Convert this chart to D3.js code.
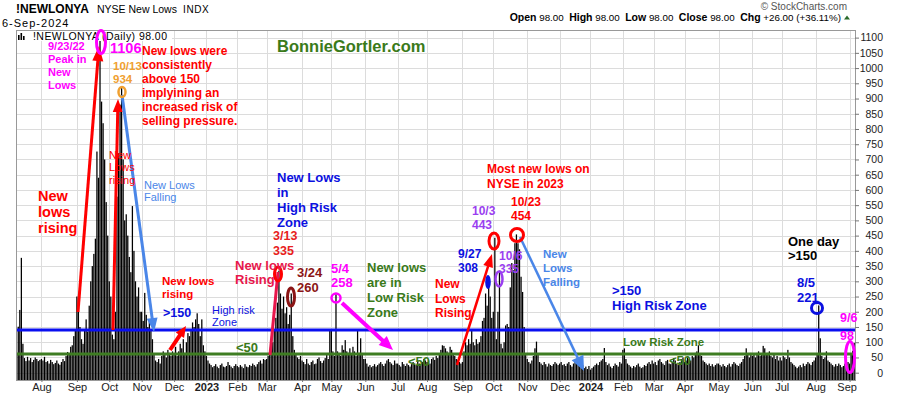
<!DOCTYPE html>
<html>
<head>
<meta charset="utf-8">
<script src="https://cdn.jsdelivr.net/npm/d3@7"></script>
<style>
  body { margin: 0; background: #fff; }
  svg { display: block; font-family: Arial, "Liberation Sans", sans-serif; }
</style>
</head>
<body>
<svg id="chart" width="900" height="396"></svg>
<script>
(function (d3) {
    'use strict';

    // Daily NYSE new lows, one array per month.
    var jul22 = [60, 151, 206, 377, 95, 48, 38, 52, 40, 48, 35, 42, 50, 45, 38, 42];
    var aug22 = [45, 40, 52, 35, 38, 30, 42, 35, 28, 32, 40, 30, 26, 35, 45, 38, 55, 68, 60, 85, 90, 120, 140];
    var sep22 = [250, 205, 150, 110, 95, 140, 175, 135, 220, 300, 350, 390, 440, 726, 640, 1106, 890, 819, 700, 560, 450];
    var oct22 = [300, 250, 125, 110, 200, 578, 720, 880, 934, 700, 500, 520, 450, 380, 330, 547, 400, 300, 250, 280, 200];
    var nov22 = [200, 170, 262, 190, 150, 170, 140, 110, 60, 40, 35, 45, 30, 55, 70, 60, 50, 75, 65, 55, 70];
    var dec22 = [60, 85, 55, 70, 95, 80, 110, 65, 100, 130, 120, 140, 165, 150, 175, 195, 160, 120, 175, 90, 70];
    var jan23 = [55, 40, 30, 25, 18, 22, 28, 20, 15, 25, 30, 20, 18, 22, 35, 25, 20, 15, 22, 28];
    var feb23 = [22, 18, 25, 20, 15, 28, 20, 18, 25, 22, 30, 25, 20, 28, 35, 40, 30, 45, 42];
    var mar23 = [45, 55, 60, 75, 100, 140, 180, 230, 335, 260, 210, 250, 195, 215, 160, 190, 260, 120, 75, 60, 50, 45, 55];
    var apr23 = [40, 35, 28, 45, 30, 25, 35, 40, 28, 30, 45, 50, 38, 32, 40, 48, 60, 45, 140];
    var may23 = [140, 70, 55, 258, 70, 60, 55, 90, 75, 107, 70, 65, 80, 60, 85, 70, 55, 140, 65, 113, 60, 45];
    var jun23 = [45, 30, 20, 25, 18, 22, 28, 20, 25, 30, 35, 28, 22, 30, 40, 45, 35, 30, 25, 40, 30];
    var jul23 = [30, 25, 20, 35, 28, 22, 30, 25, 20, 28, 35, 30, 25, 40, 30, 28, 35, 45, 40];
    var aug23 = [35, 40, 30, 45, 50, 42, 55, 48, 60, 75, 90, 88, 80, 70, 65, 85, 75, 60, 55, 45, 40, 35, 30];
    var sep23 = [35, 70, 100, 90, 110, 95, 140, 100, 90, 110, 95, 100, 120, 170, 180, 260, 220, 308, 250, 180];
    var oct23 = [200, 443, 110, 200, 335, 95, 80, 100, 155, 160, 150, 280, 360, 337, 425, 454, 425, 405, 315, 265, 150, 60];
    var nov23 = [45, 35, 30, 40, 55, 80, 102, 60, 35, 30, 25, 35, 28, 20, 30, 25, 22, 28, 35, 30, 25];
    var dec23 = [30, 35, 25, 28, 22, 30, 35, 25, 20, 30, 40, 35, 28, 22, 18, 25, 15, 20, 12, 22];
    var jan24 = [10, 15, 20, 25, 30, 25, 35, 40, 45, 81, 35, 25, 30, 20, 15, 22, 30, 25, 20, 35, 30];
    var feb24 = [75, 80, 45, 30, 25, 20, 15, 22, 18, 25, 30, 20, 15, 18, 25, 22, 30, 35, 28, 40];
    var mar24 = [30, 35, 25, 40, 45, 35, 30, 25, 38, 42, 30, 28, 35, 48, 40, 30, 25, 35, 45, 50];
    var apr24 = [35, 40, 50, 45, 40, 55, 50, 65, 70, 90, 60, 55, 40, 35, 30, 25, 30, 22, 28, 20, 25, 30];
    var may24 = [30, 25, 20, 28, 22, 18, 25, 30, 20, 28, 35, 30, 25, 22, 30, 35, 45, 55, 80, 60, 50, 65];
    var jun24 = [55, 60, 50, 65, 70, 55, 60, 88, 80, 60, 65, 70, 55, 50, 60, 45, 55, 40, 50];
    var jul24 = [40, 55, 50, 45, 75, 50, 35, 30, 25, 20, 15, 20, 25, 18, 30, 22, 28, 35, 30, 25, 35, 40];
    var aug24 = [50, 60, 221, 113, 55, 45, 50, 70, 40, 35, 30, 25, 20, 28, 22, 30, 25, 18, 22, 30, 28, 35];
    var sep24 = [30, 60, 72, 98];

    var months = [jul22, aug22, sep22, oct22, nov22, dec22, jan23, feb23, mar23, apr23, may23, jun23,
        jul23, aug23, sep23, oct23, nov23, dec23, jan24, feb24, mar24, apr24, may24, jun24, jul24, aug24, sep24];
    var monthLabels = ['', 'Aug', 'Sep', 'Oct', 'Nov', 'Dec', '2023', 'Feb', 'Mar', 'Apr', 'May', 'Jun',
        'Jul', 'Aug', 'Sep', 'Oct', 'Nov', 'Dec', '2024', 'Feb', 'Mar', 'Apr', 'May', 'Jun', 'Jul', 'Aug', 'Sep'];
    var yTicks = [0, 50, 100, 150, 200, 250, 300, 350, 400, 450, 500, 550,
        600, 650, 700, 750, 800, 850, 900, 950, 1000, 1050, 1100];
    var highRiskLevel = 140;
    var lowRiskLevel = 61;

    var MAG = '#ff00ff', ORANGE = '#f0a030', RED = '#ff0000', CRIMSON = '#e8174c',
        MAROON = '#8b1515', BLUE = '#0b10e0', CORN = '#4a86e8', GREEN = '#3a7a1a', PURPLE = '#9a3ef0';

    // Flatten the months into one run of trading days.
    var values = [];
    var monthStart = [];
    months.forEach(function (m) {
        monthStart.push(values.length);
        values = values.concat(m);
    });

    var plot = {left: 16, right: 855, top: 30, bottom: 380};
    var svg = d3.select('#chart');

    var x = d3.scaleLinear().domain([0, values.length]).range([plot.left, plot.right]);
    var y = d3.scaleLinear().domain([-24, 1125]).range([plot.bottom, plot.top]);
    var step = x(1) - x(0);
    var monthX = function (s) { return Math.round(x(s + 0.5)) + 0.5; };

    // Grid
    var grid = svg.append('g').attr('class', 'grid');
    grid.selectAll('.hg').data(yTicks).enter().append('line')
        .attr('x1', plot.left).attr('x2', plot.right)
        .attr('y1', function (d) { return Math.round(y(d)) + 0.5; })
        .attr('y2', function (d) { return Math.round(y(d)) + 0.5; })
        .attr('stroke', '#dcdcdc');
    grid.selectAll('.vg').data(monthStart.slice(1)).enter().append('line')
        .attr('x1', monthX).attr('x2', monthX)
        .attr('y1', plot.top).attr('y2', plot.bottom)
        .attr('stroke', '#dcdcdc');

    // Bars
    svg.append('g').selectAll('rect').data(values).enter().append('rect')
        .attr('x', function (d, i) { return x(i) + 0.1; })
        .attr('width', step * 0.82)
        .attr('y', function (d) { return y(d); })
        .attr('height', function (d) { return plot.bottom - y(d); })
        .attr('fill', '#000');

    // Zone lines
    svg.append('line').attr('x1', plot.left).attr('x2', plot.right)
        .attr('y1', y(highRiskLevel)).attr('y2', y(highRiskLevel))
        .attr('stroke', '#0a0ff0').attr('stroke-width', 3);
    svg.append('line').attr('x1', plot.left).attr('x2', plot.right)
        .attr('y1', y(lowRiskLevel)).attr('y2', y(lowRiskLevel))
        .attr('stroke', '#3e7d22').attr('stroke-width', 3);

    // Frame
    svg.append('rect')
        .attr('x', plot.left + 0.5).attr('y', plot.top + 0.5)
        .attr('width', plot.right - plot.left).attr('height', plot.bottom - plot.top)
        .attr('fill', 'none').attr('stroke', '#999');

    // Right axis
    var yAxis = svg.append('g')
        .attr('transform', 'translate(' + plot.right + ',0)')
        .call(d3.axisRight(y).tickValues(yTicks).tickSize(4).tickFormat(d3.format('d')));
    yAxis.select('.domain').remove();
    yAxis.selectAll('line').attr('stroke', '#777');
    yAxis.selectAll('text')
        .attr('text-anchor', 'end').attr('x', 28)
        .attr('font-size', 10.5).attr('font-family', 'Arial, "Liberation Sans", sans-serif')
        .attr('fill', '#222');

    // Month axis
    var xAxis = svg.append('g')
        .attr('transform', 'translate(0,' + plot.bottom + ')')
        .call(d3.axisBottom(x)
            .tickValues(monthStart.slice(1).map(function (s) { return s + 0.5; }))
            .tickFormat(function (d, i) { return monthLabels[i + 1]; })
            .tickSize(2).tickPadding(1));
    xAxis.select('.domain').remove();
    xAxis.selectAll('line').attr('stroke', '#777');
    xAxis.selectAll('text')
        .attr('font-size', 11).attr('font-family', 'Arial, "Liberation Sans", sans-serif')
        .attr('fill', '#222')
        .attr('font-weight', function (d, i) { return /^\d{4}$/.test(monthLabels[i + 1]) ? 'bold' : 'normal'; })
        .attr('dx', function (d, i) { return i === monthLabels.length - 2 ? -3 : 0; });

    // Header
    svg.append('text').attr('x', 16).attr('y', 13).attr('font-size', 12).attr('font-weight', 'bold').text('!NEWLONYA');
    svg.append('text').attr('x', 97).attr('y', 13).attr('font-size', 10.5).text('NYSE New Lows');
    svg.append('text').attr('x', 183).attr('y', 13).attr('font-size', 10).attr('letter-spacing', 0.6).text('INDX');
    svg.append('text').attr('x', 2).attr('y', 27).attr('font-size', 11).attr('letter-spacing', 1).text('6-Sep-2024');
    svg.append('text').attr('x', 847).attr('y', 10).attr('font-size', 10).attr('text-anchor', 'end')
        .attr('fill', '#555').text('\u00a9 StockCharts.com');

    var quote = svg.append('text').attr('x', 841).attr('y', 21).attr('font-size', 9.8)
        .attr('text-anchor', 'end').attr('xml:space', 'preserve');
    [['Open', ' 98.00  '], ['High', ' 98.00  '], ['Low', ' 98.00  '], ['Close', ' 98.00  '], ['Chg', ' +26.00 (+36.11%)']]
        .forEach(function (p) {
            quote.append('tspan').attr('font-weight', 'bold').attr('font-size', 10.5).text(p[0]);
            quote.append('tspan').text(p[1]);
        });
    svg.append('path').attr('d', 'M844,19.5L850,19.5L847,15.5Z').attr('fill', '#2b6b2b');

    // Legend box inside the plot
    svg.append('rect').attr('x', plot.left + 1).attr('y', plot.top + 1).attr('width', 155).attr('height', 10).attr('fill', '#fff');
    [[18, 35, 5], [20.5, 33, 7], [23, 36, 4]].forEach(function (b) {
        svg.append('rect').attr('x', b[0]).attr('y', b[1]).attr('width', 1.6).attr('height', b[2]).attr('fill', '#000');
    });
    svg.append('text').attr('x', 33).attr('y', 39.5).attr('font-size', 10.5).attr('letter-spacing', 0.45)
        .text('!NEWLONYA (Daily) 98.00');

    // Annotations drawn on the chart
    var ann = svg.append('g').attr('class', 'annotations');

    var arrows = [
        {x1: 78, y1: 312, x2: 99, y2: 46, color: RED, w: 3, head: 15, hw: 11},
        {x1: 113, y1: 330, x2: 118, y2: 99, color: RED, w: 3, head: 13, hw: 10},
        {x1: 122, y1: 95, x2: 154, y2: 332, color: CORN, w: 3, head: 14, hw: 11},
        {x1: 170, y1: 350, x2: 186, y2: 326, color: RED, w: 4, head: 11, hw: 10},
        {x1: 270, y1: 355, x2: 278, y2: 272, color: CRIMSON, w: 3, head: 0, hw: 0},
        {x1: 342, y1: 303, x2: 393, y2: 350, color: MAG, w: 4, head: 14, hw: 12},
        {x1: 457, y1: 365, x2: 492, y2: 254, color: RED, w: 2.5, head: 13, hw: 10},
        {x1: 520, y1: 237, x2: 584, y2: 371, color: CORN, w: 2.5, head: 15, hw: 13}
    ];
    arrows.forEach(function (a) {
        var dx = a.x2 - a.x1, dy = a.y2 - a.y1;
        var len = Math.sqrt(dx * dx + dy * dy);
        var ux = dx / len, uy = dy / len;
        var bx = a.x2 - ux * a.head, by = a.y2 - uy * a.head;
        ann.append('line')
            .attr('x1', a.x1).attr('y1', a.y1)
            .attr('x2', a.head ? bx + ux : a.x2).attr('y2', a.head ? by + uy : a.y2)
            .attr('stroke', a.color).attr('stroke-width', a.w);
        if (a.head) {
            ann.append('path')
                .attr('d', 'M' + a.x2 + ',' + a.y2 +
                    'L' + (bx - uy * a.hw / 2) + ',' + (by + ux * a.hw / 2) +
                    'L' + (bx + uy * a.hw / 2) + ',' + (by - ux * a.hw / 2) + 'Z')
                .attr('fill', a.color);
        }
    });

    var rings = [
        {cx: 101, cy: 42, rx: 4.5, ry: 11.5, color: MAG, w: 3},
        {cx: 122, cy: 92, rx: 3.5, ry: 5, color: ORANGE, w: 2.5},
        {cx: 278, cy: 274, rx: 3.5, ry: 7, color: RED, w: 3},
        {cx: 291, cy: 297, rx: 3.5, ry: 9, color: MAROON, w: 3},
        {cx: 336, cy: 298, rx: 4.5, ry: 4.5, color: MAG, w: 2.5},
        {cx: 488, cy: 282, rx: 2.8, ry: 7, color: BLUE, w: 0, fill: true},
        {cx: 494, cy: 241, rx: 5, ry: 8, color: RED, w: 3},
        {cx: 499, cy: 279, rx: 3.5, ry: 7.5, color: PURPLE, w: 2.5},
        {cx: 517, cy: 235, rx: 6.5, ry: 6.5, color: RED, w: 3},
        {cx: 817, cy: 308, rx: 5.5, ry: 5.5, color: BLUE, w: 3},
        {cx: 850, cy: 357, rx: 4.5, ry: 15.5, color: MAG, w: 3}
    ];
    rings.forEach(function (r) {
        ann.append('ellipse')
            .attr('cx', r.cx).attr('cy', r.cy).attr('rx', r.rx).attr('ry', r.ry)
            .attr('fill', r.fill ? r.color : 'none')
            .attr('stroke', r.fill ? 'none' : r.color)
            .attr('stroke-width', r.w);
    });

    var notes = [
        {x: 48, y: 50, lh: 13, size: 11, color: MAG, lines: ['9/23/22', 'Peak in', 'New', 'Lows']},
        {x: 110, y: 53, size: 14.5, color: MAG, lines: ['1106']},
        {x: 113, y: 70, lh: 13, size: 11.5, color: ORANGE, lines: ['10/13', '934']},
        {x: 142, y: 54.5, lh: 14, size: 12, color: RED,
            lines: ['New lows were', 'consistently', 'above 150', 'implyining an', 'increased risk of', 'selling pressure.']},
        {x: 277, y: 52, size: 16.5, color: GREEN, lines: ['BonnieGortler.com']},
        {x: 38, y: 201, lh: 16, size: 14.5, color: RED, lines: ['New', 'lows', 'rising']},
        {x: 109, y: 159, lh: 12.3, size: 11, normal: true, color: RED, lines: ['New', 'Lows', 'rising']},
        {x: 144, y: 189, lh: 12, size: 11, normal: true, color: CORN, lines: ['New Lows', 'Falling']},
        {x: 162, y: 285, lh: 13, size: 11.5, color: RED, lines: ['New lows', 'rising']},
        {x: 163, y: 317, size: 12.5, color: BLUE, lines: ['>150']},
        {x: 212, y: 314, lh: 12, size: 11, normal: true, color: BLUE, lines: ['High risk', 'Zone']},
        {x: 236, y: 352, size: 13, color: GREEN, lines: ['<50']},
        {x: 277, y: 182, lh: 15, size: 13, color: BLUE, lines: ['New Lows', 'in', 'High Risk', 'Zone']},
        {x: 273, y: 240, lh: 14.5, size: 12.5, color: '#e82020', lines: ['3/13', '335']},
        {x: 235, y: 270, lh: 14, size: 13, color: CRIMSON, lines: ['New lows', 'Rising']},
        {x: 297, y: 277, lh: 15, size: 13, color: MAROON, lines: ['3/24', '260']},
        {x: 331, y: 273, lh: 14, size: 13, color: MAG, lines: ['5/4', '258']},
        {x: 367, y: 272, lh: 15, size: 13, color: GREEN, lines: ['New lows', 'are in', 'Low Risk', 'Zone']},
        {x: 408, y: 366, size: 13, color: GREEN, lines: ['<50']},
        {x: 435, y: 288, lh: 14.5, size: 12, color: RED, lines: ['New', 'Lows', 'Rising']},
        {x: 458, y: 258, lh: 14, size: 12, color: BLUE, lines: ['9/27', '308']},
        {x: 472, y: 215, lh: 13.5, size: 12, color: PURPLE, lines: ['10/3', '443']},
        {x: 499, y: 260, lh: 12.5, size: 12, color: PURPLE, lines: ['10/6', '335']},
        {x: 487, y: 173, lh: 15, size: 12, color: RED, lines: ['Most new lows on', 'NYSE in 2023']},
        {x: 511, y: 206, lh: 14, size: 12, color: RED, lines: ['10/23', '454']},
        {x: 543, y: 258, lh: 14, size: 11.5, color: CORN, lines: ['New', 'Lows', 'Falling']},
        {x: 612, y: 295, lh: 15, size: 13, color: BLUE, lines: ['>150', 'High Risk Zone']},
        {x: 623, y: 346, size: 11.5, color: GREEN, lines: ['Low Risk Zone']},
        {x: 669, y: 365, size: 13, color: GREEN, lines: ['<50']},
        {x: 788, y: 246, lh: 14, size: 13, color: '#000', lines: ['One day', '>150']},
        {x: 797, y: 287, lh: 15, size: 13, color: BLUE, lines: ['8/5', '221']},
        {x: 840, y: 322, lh: 18, size: 12.5, color: MAG, lines: ['9/6', '98']}
    ];
    notes.forEach(function (n) {
        var t = ann.append('text')
            .attr('x', n.x).attr('y', n.y)
            .attr('font-size', n.size)
            .attr('font-weight', n.normal ? 'normal' : 'bold')
            .attr('fill', n.color);
        n.lines.forEach(function (line, i) {
            t.append('tspan').attr('x', n.x).attr('dy', i === 0 ? 0 : n.lh).text(line);
        });
    });

})(d3);
</script>
</body>
</html>
